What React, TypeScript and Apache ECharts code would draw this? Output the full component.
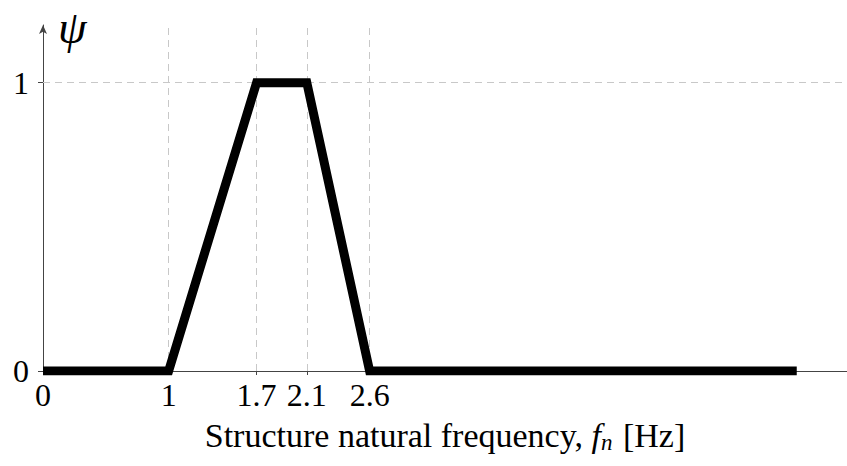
import React, { useEffect, useRef } from "react";
import * as echarts from "echarts";

const xValues = [0, 1, 1.7, 2.1, 2.6, 6];
const psiValues = [0, 0, 1, 1, 0, 0];
const xTicks = [0, 1, 1.7, 2.1, 2.6];
const yTicks = [0, 1];
const xGrid = [1, 1.7, 2.1, 2.6];
const yGrid = [1];

const FONT = "Liberation Serif, DejaVu Serif, serif";

export default function App() {
  const ref = useRef<HTMLDivElement>(null);
  useEffect(() => {
    if (!ref.current) return;
    const chart = echarts.init(ref.current, null, { renderer: "svg" });
    const gridStyle = { color: "#c8c8c8", type: [7, 5] as any, width: 1 };
    chart.setOption({
      animation: false,
      backgroundColor: "#ffffff",
      grid: { left: 43, right: 0, top: 25, bottom: 95, containLabel: false },
      xAxis: {
        type: "value",
        min: 0,
        max: 6.4,
        axisLine: { show: true, onZero: false, lineStyle: { color: "#444", width: 1 } },
        axisTick: { show: true, customValues: xTicks, length: 4, lineStyle: { color: "#444" } },
        axisLabel: {
          customValues: xTicks,
          color: "#000",
          fontFamily: FONT,
          fontSize: 32,
          margin: 8,
          formatter: (v: number) => String(v),
        },
        splitLine: { show: false },
        name: "{n|Structure natural frequency, }{i|f}{s|n}{n| [Hz]}",
        nameLocation: "middle",
        nameGap: 46,
        nameTextStyle: {
          rich: {
            n: { fontFamily: FONT, fontSize: 34, color: "#000" },
            i: { fontFamily: FONT, fontSize: 34, fontStyle: "italic", color: "#000" },
            s: { fontFamily: FONT, fontSize: 23, fontStyle: "italic", color: "#000", padding: [14, 2, 0, 0] },
          },
        },
      },
      yAxis: {
        type: "value",
        min: 0,
        max: 1.2,
        axisLine: {
          show: true,
          onZero: false,
          symbol: ["none", "arrow"],
          symbolSize: [6, 9],
          lineStyle: { color: "#444", width: 1 },
        },
        axisTick: { show: true, customValues: yTicks, length: 5, lineStyle: { color: "#444" } },
        axisLabel: {
          customValues: yTicks,
          color: "#000",
          fontFamily: FONT,
          fontSize: 32,
          margin: 14,
        },
        splitLine: { show: false },
      },
      graphic: [
        {
          type: "text",
          x: 58,
          y: 27,
          style: {
            text: "ψ",
            fontFamily: FONT,
            fontStyle: "italic",
            fontSize: 46,
            lineHeight: 46,
            verticalAlign: "middle",
            align: "left",
            fill: "#000",
          },
        },
      ],
      series: [
        {
          type: "line",
          data: xValues.map((x, i) => [x, psiValues[i]]),
          showSymbol: false,
          symbol: "none",
          clip: true,
          lineStyle: { color: "#000", width: 9, cap: "butt", join: "miter" },
          markLine: {
            silent: true,
            symbol: "none",
            label: { show: false },
            lineStyle: gridStyle,
            emphasis: { disabled: true },
            data: [
              ...xGrid.map((v) => ({ xAxis: v })),
              ...yGrid.map((v) => ({ yAxis: v })),
            ],
            z: 1,
          },
          z: 3,
        },
      ],
    });
    return () => chart.dispose();
  }, []);
  return (
    <div
      ref={ref}
      style={{ position: "fixed", left: 0, top: 0, width: 847, height: 466 }}
    />
  );
}
